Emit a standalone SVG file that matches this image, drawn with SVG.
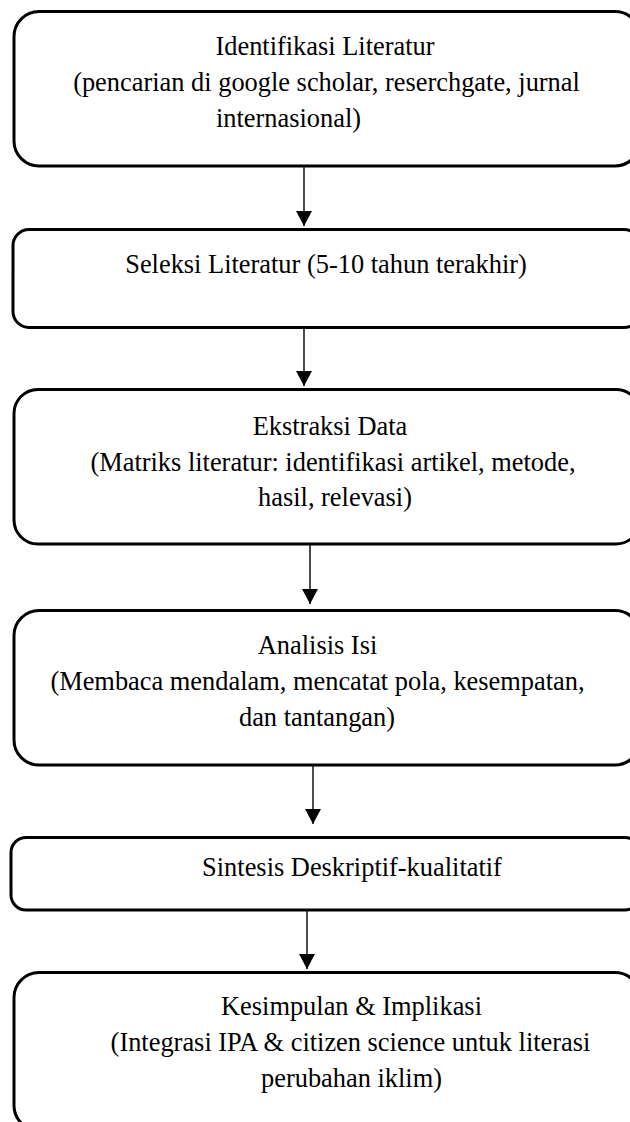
<svg xmlns="http://www.w3.org/2000/svg" width="630" height="1122" viewBox="0 0 630 1122">
<style>
.box{fill:#fff;stroke:#000;stroke-width:3}
.t{font-family:"Liberation Serif","Times New Roman",serif;font-size:26.4px;fill:#000;text-anchor:middle}
.c{stroke:#000;stroke-width:1.4;fill:none;marker-end:url(#ah)}
</style>
<defs>
<marker id="ah" markerUnits="userSpaceOnUse" markerWidth="16" markerHeight="16" refX="15" refY="8" orient="auto">
<path d="M0,0 L15,8 L0,16 z" fill="#000"/>
</marker>
</defs>
<rect width="630" height="1122" fill="#fff"/>
<g id="connectors">
<line class="c" x1="304" y1="167" x2="304" y2="226"/>
<line class="c" x1="304" y1="329" x2="304" y2="386"/>
<line class="c" x1="310" y1="545" x2="310" y2="604"/>
<line class="c" x1="313" y1="766" x2="313" y2="824"/>
<line class="c" x1="307" y1="911" x2="307" y2="969"/>
</g>
<g id="n1">
<rect class="box" x="14" y="11.5" width="626" height="154.5" rx="25"/>
<text class="t" x="325" y="55">Identifikasi Literatur</text>
<text class="t" x="326.5" y="91">(pencarian di google scholar, reserchgate, jurnal</text>
<text class="t" x="216" y="127" style="text-anchor:start">internasional)</text>
</g>
<g id="n2">
<rect class="box" x="13" y="229.5" width="627" height="98" rx="16"/>
<text class="t" x="326" y="273">Seleksi Literatur (5-10 tahun terakhir)</text>
</g>
<g id="n3">
<rect class="box" x="14" y="389.5" width="626" height="154.5" rx="24"/>
<text class="t" x="330" y="435">Ekstraksi Data</text>
<text class="t" x="333" y="471">(Matriks literatur: identifikasi artikel, metode,</text>
<text class="t" x="335" y="506">hasil, relevasi)</text>
</g>
<g id="n4">
<rect class="box" x="14" y="610.5" width="626" height="154.5" rx="25"/>
<text class="t" x="317.5" y="654">Analisis Isi</text>
<text class="t" x="317.5" y="690">(Membaca mendalam, mencatat pola, kesempatan,</text>
<text class="t" x="317" y="726">dan tantangan)</text>
</g>
<g id="n5">
<rect class="box" x="11" y="837.5" width="629" height="72.5" rx="15"/>
<text class="t" x="352" y="876">Sintesis Deskriptif-kualitatif</text>
</g>
<g id="n6">
<rect class="box" x="14" y="972.5" width="626" height="158" rx="25"/>
<text class="t" x="351.5" y="1015">Kesimpulan &amp; Implikasi</text>
<text class="t" x="350.5" y="1051">(Integrasi IPA &amp; citizen science untuk literasi</text>
<text class="t" x="351.5" y="1087">perubahan iklim)</text>
</g>
</svg>
